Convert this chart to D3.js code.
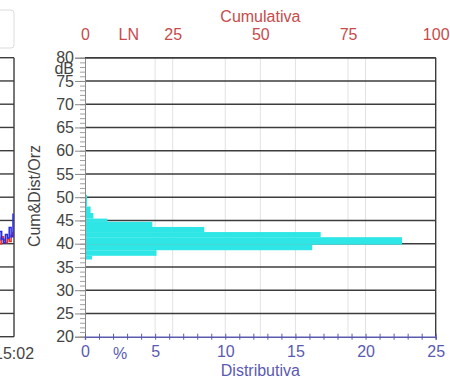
<!DOCTYPE html>
<html><head><meta charset="utf-8">
<script src="https://cdn.jsdelivr.net/npm/d3@7"></script>
<style>
body{margin:0;background:#fff}
svg{display:block}
text{font-family:"Liberation Sans",Arial,Helvetica,sans-serif}
</style>
</head><body>
<svg id="c" width="450" height="380"></svg>
<script>
// ---- data ----
const dbTicks = [20,25,30,35,40,45,50,55,60,65,70,75,80];
const distTicks = [0,5,10,15,20,25];
const cumTicks = [0,25,50,75,100];
const bandLo  = [48.0, 46.6, 45.4, 44.7, 43.6, 42.5, 41.4, 39.8, 38.6, 37.4, 36.6];
const bandHi  = [50.5, 48.0, 46.6, 45.4, 44.7, 43.6, 42.5, 41.4, 39.8, 38.6, 37.4];
const bandPct = [0.15, 0.4, 0.6, 1.6, 4.8, 8.5, 16.8, 22.6, 16.2, 5.1, 0.5];
// fragment of time-history panel on the left
const tIdx   = [0,1,2,3,4,5,6,7,8,9];
const tBlue  = [41.5,40.8,42.6,41.0,40.2,42.0,41.2,43.5,41.5,46.5];
const tRed   = [40.5,41.2,40.0,41.5,40.8,40.2,41.0,40.5,41.8,42.5];
const timeLabel = "15:02";

const svg = d3.select('#c');
const y  = d3.scaleLinear().domain([20,80]).range([336.7,57.7]);
const xd = d3.scaleLinear().domain([0,25]).range([85,435.7]);
const xc = d3.scaleLinear().domain([0,100]).range([85,435.7]);
const xt = d3.scaleLinear().domain([0,9]).range([-4,13]);

const GRID = '#3c3c3c', BLUE = '#5a5ab0', RED = '#c84a4a', CYAN = '#2ee6e6';
const FONT = '"Liberation Sans",Arial,sans-serif';

// ---- left partial panel ----
svg.append('rect').attr('x',-10).attr('y',10).attr('width',24).attr('height',38)
  .attr('rx',3).attr('fill','#fff').attr('stroke','#dcdcdc');
svg.append('g').selectAll('line').data(dbTicks).join('line')
  .attr('x1',0).attr('x2',14).attr('y1',d=>y(d)).attr('y2',d=>y(d))
  .attr('stroke',GRID).attr('stroke-width',1.4);
svg.append('line').attr('x1',14).attr('x2',14).attr('y1',y(80)).attr('y2',y(20))
  .attr('stroke',GRID).attr('stroke-width',1.4);
const ln = d3.line().x((d,i)=>xt(tIdx[i])).y(d=>y(d)).curve(d3.curveStepAfter);
svg.append('path').attr('d',ln(tRed)).attr('fill','none').attr('stroke','#e03030').attr('stroke-width',1.5);
svg.append('path').attr('d',ln(tBlue)).attr('fill','none').attr('stroke','#2a2ae0').attr('stroke-width',1.5);
svg.append('text').attr('x',14).attr('y',359).attr('text-anchor','middle')
  .attr('font-size',16).attr('fill','#444').text(timeLabel);

// ---- main panel ----
const vg = svg.append('g');
vg.selectAll('line.d').data(distTicks.slice(1,-1)).join('line').attr('class','d')
  .attr('x1',d=>xd(d)).attr('x2',d=>xd(d)).attr('y1',y(80)).attr('y2',y(20))
  .attr('stroke','#e2e2e2');
vg.selectAll('line.c').data(cumTicks.slice(1,-1)).join('line').attr('class','c')
  .attr('x1',d=>xc(d)).attr('x2',d=>xc(d)).attr('y1',y(80)).attr('y2',y(20))
  .attr('stroke','#e2e2e2');

svg.append('g').selectAll('line').data(dbTicks.slice(1)).join('line')
  .attr('x1',xd(0)).attr('x2',xd(25)).attr('y1',d=>y(d)).attr('y2',d=>y(d))
  .attr('stroke',GRID).attr('stroke-width',1.4);

svg.append('g').selectAll('rect').data(bandPct).join('rect')
  .attr('x',xd(0)).attr('width',(d)=>xd(d)-xd(0))
  .attr('y',(d,i)=>y(bandHi[i])).attr('height',(d,i)=>y(bandLo[i])-y(bandHi[i]))
  .attr('fill',CYAN);

svg.append('line').attr('x1',xd(25)).attr('x2',xd(25)).attr('y1',y(80)).attr('y2',y(20))
  .attr('stroke',GRID).attr('stroke-width',1.4);

// left axis
const la = svg.append('g').attr('transform',`translate(${xd(0)},0)`)
  .call(d3.axisLeft(y).tickValues(d3.range(20,81,1)).tickSize(5).tickFormat(''));
la.select('.domain').remove();
la.selectAll('line').attr('stroke','#a0a0a0');
const lb = svg.append('g').attr('transform',`translate(${xd(0)},0)`)
  .call(d3.axisLeft(y).tickValues(dbTicks).tickSize(10).tickPadding(1));
lb.select('.domain').attr('stroke','#8a8a8a');
lb.selectAll('line').attr('stroke','#8a8a8a');
lb.selectAll('text').attr('font-size',16).attr('fill','#444').attr('font-family',FONT);
svg.append('text').attr('x',74).attr('y',74).attr('text-anchor','end')
  .attr('font-size',16).attr('fill','#444').text('dB');
svg.append('text').attr('transform','translate(40,196) rotate(-90)')
  .attr('text-anchor','middle').attr('font-size',16).attr('fill','#444').text('Cum&Dist/Orz');

// bottom axis (distributiva)
const ba = svg.append('g').attr('transform',`translate(0,${y(20)})`)
  .call(d3.axisBottom(xd).tickValues(d3.range(0,26,1)).tickSize(3).tickFormat(''));
ba.select('.domain').attr('stroke',BLUE).attr('stroke-width',1.4);
ba.selectAll('.tick line').attr('stroke',BLUE).attr('y1',-3);
const bb = svg.append('g').attr('transform',`translate(0,${y(20)})`)
  .call(d3.axisBottom(xd).tickValues(distTicks).tickSize(0).tickPadding(9));
bb.select('.domain').remove();
bb.selectAll('text').attr('font-size',16).attr('fill',BLUE).attr('font-family',FONT);
svg.append('text').attr('x',xd(2.5)).attr('y',359).attr('text-anchor','middle')
  .attr('font-size',16).attr('fill',BLUE).text('%');
svg.append('text').attr('x',xd(12.5)).attr('y',376).attr('text-anchor','middle')
  .attr('font-size',16).attr('fill',BLUE).text('Distributiva');

// top axis (cumulativa)
svg.append('line').attr('x1',xc(0)).attr('x2',xc(100)).attr('y1',y(80)).attr('y2',y(80))
  .attr('stroke',GRID).attr('stroke-width',1.4);
const ta = svg.append('g').attr('transform',`translate(0,${y(80)})`)
  .call(d3.axisTop(xc).tickValues(cumTicks).tickSize(0).tickPadding(18));
ta.select('.domain').remove();
ta.selectAll('text').attr('font-size',16).attr('fill',RED).attr('font-family',FONT);
svg.append('text').attr('x',xc(12.5)).attr('y',40).attr('text-anchor','middle')
  .attr('font-size',16).attr('fill',RED).text('LN');
svg.append('text').attr('x',xc(50)).attr('y',22).attr('text-anchor','middle')
  .attr('font-size',16).attr('fill',RED).text('Cumulativa');
</script>
</body></html>
